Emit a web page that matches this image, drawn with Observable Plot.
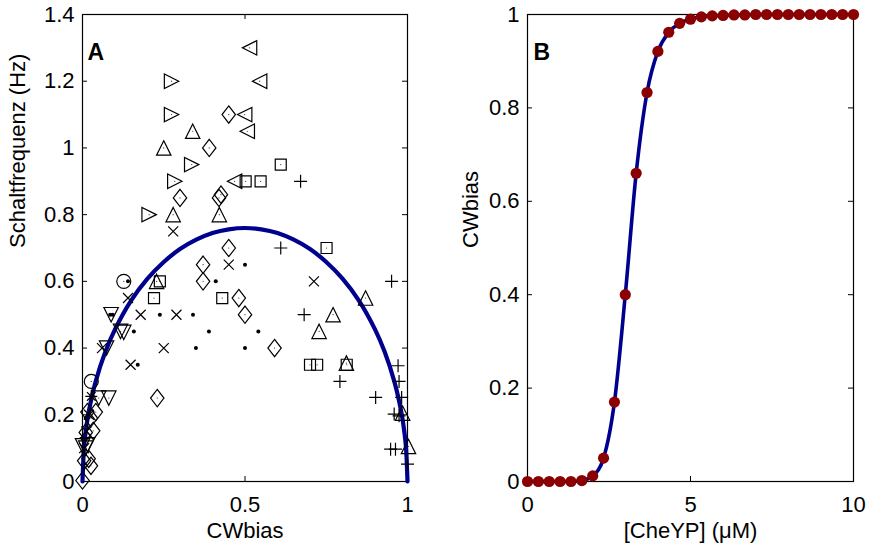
<!DOCTYPE html>
<html><head><meta charset="utf-8">
<script src="https://cdn.jsdelivr.net/npm/d3@7"></script>
<script src="https://cdn.jsdelivr.net/npm/@observablehq/plot@0.6"></script>
<style>
body{margin:0;background:#fff;}
#wrap{display:flex;width:875px;height:546px;background:#fff;}
</style>
</head><body><div id="wrap"></div>
<script>
// ---------- Panel A data (CWbias vs Schaltfrequenz) ----------
const triRightX = [0.274, 0.274, 0.336, 0.284, 0.205];
const triRightY = [1.20, 1.10, 0.95, 0.90, 0.80];
const triLeftX = [0.514, 0.545, 0.499, 0.507, 0.468];
const triLeftY = [1.30, 1.20, 1.10, 1.05, 0.90];
const triUpX = [0.339, 0.250, 0.279, 0.421, 0.228, 0.871, 0.771, 0.728, 0.812, 0.985, 1.003];
const triUpY = [1.05, 1.00, 0.80, 0.80, 0.60, 0.55, 0.50, 0.45, 0.355, 0.205, 0.105];
const triDownX = [0.088, 0.117, 0.127, 0.074, 0.050, 0.081, 0.000, 0.010, 0.016];
const triDownY = [0.50, 0.45, 0.447, 0.40, 0.25, 0.25, 0.107, 0.10, 0.11];
const diamondX = [0.450, 0.390, 0.300, 0.420, 0.426, 0.450, 0.371, 0.371, 0.481, 0.500, 0.591, 0.230,
                  0.015, 0.026, 0.041, 0.010, 0.033, 0.005, 0.019, 0.026, 0.000];
const diamondY = [1.10, 1.00, 0.85, 0.85, 0.86, 0.70, 0.65, 0.60, 0.55, 0.50, 0.40, 0.25,
                  0.208, 0.19, 0.208, 0.147, 0.152, 0.062, 0.068, 0.047, 0.003];
const squareX = [0.610, 0.502, 0.548, 0.751, 0.238, 0.220, 0.430, 0.700, 0.722, 0.813];
const squareY = [0.95, 0.90, 0.90, 0.70, 0.60, 0.55, 0.55, 0.35, 0.35, 0.35];
const circleX = [0.127, 0.027];
const circleY = [0.60, 0.30];
const plusX = [0.671, 0.610, 0.951, 0.682, 0.971, 0.792, 0.974, 0.902, 0.982, 0.959, 0.974, 0.948, 0.963, 1.000];
const plusY = [0.90, 0.70, 0.60, 0.50, 0.347, 0.30, 0.30, 0.252, 0.252, 0.202, 0.197, 0.097, 0.097, 0.052];
const timesX = [0.279, 0.450, 0.712, 0.140, 0.179, 0.289, 0.060, 0.250, 0.148, 0.020, 0.012, 0.005];
const timesY = [0.75, 0.65, 0.60, 0.55, 0.50, 0.50, 0.40, 0.40, 0.35, 0.20, 0.15, 0.10];
const dotX = [0.500, 0.140, 0.410, 0.085, 0.093, 0.238, 0.340, 0.158, 0.389, 0.541, 0.349, 0.500, 0.170];
const dotY = [0.65, 0.60, 0.60, 0.50, 0.50, 0.50, 0.50, 0.45, 0.45, 0.45, 0.40, 0.40, 0.35];
const asteriskX = [0.027];
const asteriskY = [0.255];
// fitted curve
const fitX = [0, 0.005, 0.01, 0.02, 0.04, 0.07, 0.1, 0.15, 0.2, 0.25, 0.3, 0.35, 0.4, 0.45, 0.5,
              0.55, 0.6, 0.65, 0.7, 0.75, 0.8, 0.85, 0.9, 0.93, 0.96, 0.98, 0.99, 0.995, 1];
const fitY = [0, 0.107, 0.151, 0.213, 0.298, 0.388, 0.456, 0.543, 0.608, 0.658, 0.697, 0.725, 0.745, 0.756, 0.76,
              0.756, 0.745, 0.725, 0.697, 0.658, 0.608, 0.543, 0.456, 0.388, 0.298, 0.213, 0.151, 0.107, 0];
const xTicksA = [0, 0.5, 1];
const yTicksA = [0, 0.2, 0.4, 0.6, 0.8, 1, 1.2, 1.4];

// ---------- Panel B data (CheYP vs CWbias) ----------
const cheYP = [0, 1/3, 2/3, 1, 4/3, 5/3, 2, 7/3, 8/3, 3, 10/3, 11/3, 4, 13/3, 14/3, 5, 16/3, 17/3, 6,
               19/3, 20/3, 7, 22/3, 23/3, 8, 25/3, 26/3, 9, 28/3, 29/3, 10];
const cwBias = [0, 0, 0, 0, 0, 0.002, 0.012, 0.05, 0.17, 0.40, 0.66, 0.833, 0.921, 0.962, 0.981, 0.99,
                0.995, 0.997, 0.998, 0.999, 0.999, 1, 1, 1, 1, 1, 1, 1, 1, 1, 1];
const xTicksB = [0, 5, 10];
const yTicksB = [0, 0.2, 0.4, 0.6, 0.8, 1];

// ---------- helpers ----------
const pts = (xs, ys) => xs.map((x, i) => ({x, y: ys[i]}));
const mk = fn => ({draw(c, size) { const r = Math.sqrt(size / Math.PI); fn(c, r); }});
const symTriRight = mk((c, r) => { c.moveTo(r, 0); c.lineTo(-r, -r); c.lineTo(-r, r); c.closePath(); });
const symTriLeft = mk((c, r) => { c.moveTo(-r, 0); c.lineTo(r, -r); c.lineTo(r, r); c.closePath(); });
const symTriUp = mk((c, r) => { c.moveTo(0, -r); c.lineTo(r, r); c.lineTo(-r, r); c.closePath(); });
const symTriDown = mk((c, r) => { c.moveTo(0, r); c.lineTo(r, -r); c.lineTo(-r, -r); c.closePath(); });
const symDiamond = mk((c, r) => { c.moveTo(0, -1.2 * r); c.lineTo(0.93 * r, 0); c.lineTo(0, 1.2 * r); c.lineTo(-0.93 * r, 0); c.closePath(); });
const symSquare = mk((c, r) => { c.moveTo(-r, -r); c.lineTo(r, -r); c.lineTo(r, r); c.lineTo(-r, r); c.closePath(); });
const symPlus = mk((c, r) => { c.moveTo(-r, 0); c.lineTo(r, 0); c.moveTo(0, -r); c.lineTo(0, r); });
const symTimes = mk((c, r) => { c.moveTo(-r, -r); c.lineTo(r, r); c.moveTo(-r, r); c.lineTo(r, -r); });
const symAster = mk((c, r) => { c.moveTo(-r, 0); c.lineTo(r, 0); c.moveTo(0, -r); c.lineTo(0, r);
  const d = r * 0.72; c.moveTo(-d, -d); c.lineTo(d, d); c.moveTo(-d, d); c.lineTo(d, -d); });

const FONT = "'Liberation Sans', Arial, Helvetica, sans-serif";
const FS = 22;
const H = 546, MT = 14, MB = 65;
const innerH = H - MT - MB;
const navy = "#00008f";
const darkRed = "#8b0000";
const SW = 1.2;

function frameMarks(xt, yt, innerW, fmt) {
  return [
    Plot.frame({stroke: "black", strokeWidth: 1.2}),
    Plot.tickY(yt, {y: d => d, insetRight: innerW - 5, stroke: "black"}),
    Plot.tickY(yt, {y: d => d, insetLeft: innerW - 5, stroke: "black"}),
    Plot.tickX(xt, {x: d => d, insetTop: innerH - 5, stroke: "black"}),
    Plot.tickX(xt, {x: d => d, insetBottom: innerH - 5, stroke: "black"}),
    Plot.axisX({ticks: xt, tickSize: 0, tickPadding: 15, tickFormat: fmt, label: null, fontSize: FS}),
    Plot.axisY({ticks: yt, tickSize: 0, tickPadding: 8, tickFormat: fmt, label: null, fontSize: FS})
  ];
}
const fmt = d3.format("~g");

// ---------- Panel A ----------
const WA = 437, MLA = 82, MRA = 30;
const openSets = [
  [triRightX, triRightY, symTriRight, 7.2],
  [triLeftX, triLeftY, symTriLeft, 7.2],
  [triUpX, triUpY, symTriUp, 7.2],
  [triDownX, triDownY, symTriDown, 7.2],
  [diamondX, diamondY, symDiamond, 7.2],
  [squareX, squareY, symSquare, 5.5]
];
const marksA = [
  ...frameMarks(xTicksA, yTicksA, WA - MLA - MRA, fmt),
  Plot.line(pts(fitX, fitY), {x: "x", y: "y", stroke: navy, strokeWidth: 4.2, curve: "catmull-rom"}),
  ...openSets.map(([xs, ys, s, r]) => Plot.dot(pts(xs, ys), {x: "x", y: "y", symbol: s, r, fill: "none", stroke: "black", strokeWidth: SW})),
  ...openSets.map(([xs, ys]) => Plot.dot(pts(xs, ys), {x: "x", y: "y", r: 0.6, fill: "#333", stroke: "none"})),
  Plot.dot(pts(circleX, circleY), {x: "x", y: "y", r: 7, fill: "none", stroke: "black", strokeWidth: SW}),
  Plot.dot(pts(circleX, circleY), {x: "x", y: "y", r: 0.6, fill: "#333", stroke: "none"}),
  Plot.dot(pts(plusX, plusY), {x: "x", y: "y", symbol: symPlus, r: 6.5, fill: "none", stroke: "black", strokeWidth: SW}),
  Plot.dot(pts(timesX, timesY), {x: "x", y: "y", symbol: symTimes, r: 5, fill: "none", stroke: "black", strokeWidth: SW}),
  Plot.dot(pts(asteriskX, asteriskY), {x: "x", y: "y", symbol: symAster, r: 6, fill: "none", stroke: "black", strokeWidth: SW}),
  Plot.dot(pts(dotX, dotY), {x: "x", y: "y", r: 2, fill: "black", stroke: "none"}),
  Plot.text(["A"], {frameAnchor: "top-left", dx: 5, dy: 38, lineAnchor: "middle", textAnchor: "start", fontWeight: "bold", fontSize: 23}),
  Plot.text(["Schaltfrequenz (Hz)"], {frameAnchor: "left", dx: -65, rotate: -90, lineAnchor: "middle", fontSize: FS}),
  Plot.text(["CWbias"], {frameAnchor: "bottom", dy: 49, lineAnchor: "middle", fontSize: FS})
];
const chartA = Plot.plot({
  width: WA, height: H, marginLeft: MLA, marginRight: MRA, marginTop: MT, marginBottom: MB,
  x: {type: "linear", domain: [0, 1]},
  y: {type: "linear", domain: [0, 1.4]},
  style: {fontFamily: FONT, fontSize: FS + "px", background: "white", color: "black", overflow: "visible"},
  marks: marksA
});

// ---------- Panel B ----------
const WB = 438, MLB = 90, MRB = 22;
const ptsB = pts(cheYP, cwBias);
const chartB = Plot.plot({
  width: WB, height: H, marginLeft: MLB, marginRight: MRB, marginTop: MT, marginBottom: MB,
  x: {type: "linear", domain: [0, 10]},
  y: {type: "linear", domain: [0, 1]},
  style: {fontFamily: FONT, fontSize: FS + "px", background: "white", color: "black", overflow: "visible"},
  marks: [
    ...frameMarks(xTicksB, yTicksB, WB - MLB - MRB, fmt),
    Plot.line(ptsB, {x: "x", y: "y", stroke: navy, strokeWidth: 3.6, curve: "monotone-x"}),
    Plot.dot(ptsB, {x: "x", y: "y", r: 5.6, fill: darkRed, stroke: "none"}),
    Plot.text(["B"], {frameAnchor: "top-left", dx: 6, dy: 38, lineAnchor: "middle", textAnchor: "start", fontWeight: "bold", fontSize: 23}),
    Plot.text(["CWbias"], {frameAnchor: "left", dx: -57, rotate: -90, lineAnchor: "middle", fontSize: FS}),
    Plot.text(["[CheYP] (μM)"], {frameAnchor: "bottom", dy: 49, lineAnchor: "middle", fontSize: FS})
  ]
});

const wrap = document.getElementById("wrap");
wrap.appendChild(chartA);
wrap.appendChild(chartB);
</script>
</body></html>
